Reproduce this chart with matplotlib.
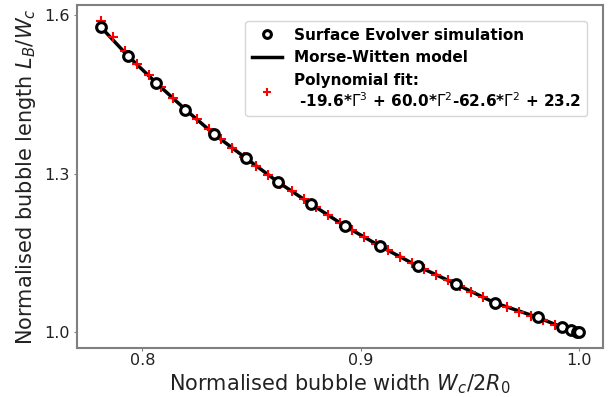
import matplotlib
matplotlib.use("Agg")
import matplotlib.pyplot as plt

# Surface Evolver simulation points
sim_x = [0.7811, 0.7933, 0.8064, 0.8197, 0.8329, 0.8475, 0.8623, 0.8772, 0.8930,
         0.9089, 0.9260, 0.9438, 0.9613, 0.9810, 0.9920, 0.9965, 0.9991, 1.0000]
sim_y = [1.5776, 1.5238, 1.4720, 1.4218, 1.3748, 1.3293, 1.2838, 1.2427, 1.2004,
         1.1627, 1.1251, 1.0905, 1.0555, 1.0279, 1.0095, 1.0038, 1.0006, 1.0000]

# Morse-Witten model curve
model_x = [0.7811, 0.7933, 0.8064, 0.8197, 0.8329, 0.8475, 0.8623, 0.8772, 0.8930,
           0.9089, 0.9260, 0.9438, 0.9613, 0.9810, 0.9920, 0.9965, 1.0000]
model_y = [1.5776, 1.5238, 1.4720, 1.4218, 1.3748, 1.3293, 1.2838, 1.2427, 1.2004,
           1.1627, 1.1251, 1.0905, 1.0555, 1.0279, 1.0095, 1.0038, 1.0000]

# Polynomial fit points
fit_x = [0.7810, 0.7865, 0.7920, 0.7974, 0.8029, 0.8084, 0.8139, 0.8193, 0.8248,
         0.8303, 0.8358, 0.8412, 0.8467, 0.8522, 0.8577, 0.8631, 0.8686, 0.8741,
         0.8796, 0.8850, 0.8905, 0.8960, 0.9015, 0.9069, 0.9124, 0.9179, 0.9234,
         0.9288, 0.9343, 0.9398, 0.9453, 0.9507, 0.9562, 0.9617, 0.9672, 0.9726,
         0.9781, 0.9836, 0.9891, 0.9945, 1.0000]
fit_y = [1.5900, 1.5600, 1.5330, 1.5090, 1.4870, 1.4645, 1.4439, 1.4233, 1.4036,
         1.3841, 1.3659, 1.3488, 1.3317, 1.3149, 1.2981, 1.2815, 1.2664, 1.2513,
         1.2364, 1.2217, 1.2071, 1.1933, 1.1804, 1.1674, 1.1550, 1.1429, 1.1309,
         1.1195, 1.1087, 1.0980, 1.0872, 1.0764, 1.0656, 1.0549, 1.0467, 1.0385,
         1.0303, 1.0221, 1.0139, 1.0065, 1.0000]

xticks = [0.8, 0.9, 1.0]
yticks = [1.0, 1.3, 1.6]
xticklabels = ["0.8", "0.9", "1.0"]
yticklabels = ["1.0", "1.3", "1.6"]

fig = plt.figure(figsize=(6.08, 3.97), dpi=100)
ax = fig.add_axes([0.1266, 0.1244, 0.8652, 0.8625])

line, = ax.plot(model_x, model_y, color="black", lw=2.5, zorder=1,
                label="Morse-Witten model")
fit, = ax.plot(fit_x, fit_y, linestyle="none", marker="+", color="red",
               ms=6.5, mew=1.5, zorder=2,
               label="Polynomial fit:\n -19.6*$\\Gamma^3$ + 60.0*$\\Gamma^2$-62.6*$\\Gamma^2$ + 23.2")
sim, = ax.plot(sim_x, sim_y, linestyle="none", marker="o", mfc="white",
               mec="black", mew=2.2, ms=7, zorder=3,
               label="Surface Evolver simulation")

ax.set_xticks(xticks)
ax.set_yticks(yticks)
ax.set_xticklabels(xticklabels)
ax.set_yticklabels(yticklabels)
ax.tick_params(labelsize=11.5, color="#808080", labelcolor="#222222", length=2.5)
ax.tick_params(axis="x", pad=1.5)
ax.tick_params(axis="y", pad=3)
for s in ax.spines.values():
    s.set_color("#808080")
    s.set_linewidth(1.5)

ax.set_xlabel("Normalised bubble width $W_c/2R_0$", fontsize=15, color="#222222",
              labelpad=3)
ax.set_ylabel("Normalised bubble length $L_B/W_c$", fontsize=15, color="#222222",
              labelpad=4)

leg = ax.legend(handles=[sim, line, fit], loc="upper right",
                bbox_to_anchor=(0.985, 0.975), markerscale=0.8,
                prop={"weight": "bold", "size": 11})

fig.savefig("out.png", dpi=100)
